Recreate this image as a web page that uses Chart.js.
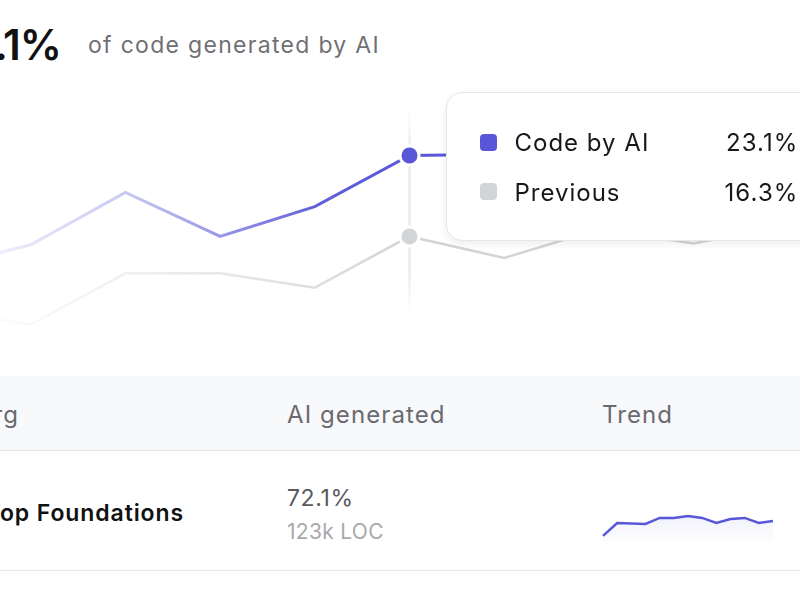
<!DOCTYPE html>
<html>
<head>
<meta charset="utf-8">
<script src="https://cdn.jsdelivr.net/npm/chart.js@4.4.1/dist/chart.umd.min.js"></script>
<style>
  html, body { margin: 0; padding: 0; }
  body { width: 800px; height: 600px; overflow: hidden; position: relative; background: #fff; font-family: Inter, 'Noto Sans', sans-serif; }
  .abs { position: absolute; white-space: nowrap; line-height: 1; }
  .headline { right: 739px; top: 24px; font-size: 42px; font-weight: 600; color: #111; letter-spacing: -1px; }
  .subtitle { left: 88px; top: 34px; font-size: 23px; color: #707074; letter-spacing: 1.3px; }
  #main-wrap { position: absolute; left: -64px; top: 90px; width: 947px; height: 250px; }
  #tip { position: absolute; top: 92px; width: 420px; height: 149px; box-sizing: border-box; background: #fff;
         border: 1px solid #e6e6e8; border-radius: 16px; box-shadow: 0 3px 8px rgba(0,0,0,0.07); }
  #tip .mark { position: absolute; left: 33px; width: 17px; height: 17px; border-radius: 4px; }
  #tip .name { position: absolute; left: 68px; font-size: 24px; color: #18181b; line-height: 1; letter-spacing: 1px; }
  #tip .val { position: absolute; left: 0; width: 352px; text-align: right; font-size: 24px; color: #18181b; line-height: 1; letter-spacing: 1.1px; }
  .thead { position: absolute; left: 0; top: 376px; width: 800px; height: 74px; background: #f8f9fb; border-bottom: 1px solid #e4e6ea; }
  .hcell { top: 403px; font-size: 24px; color: #6a6a70; letter-spacing: 1.1px; }
  .rowline { position: absolute; left: 0; top: 570px; width: 800px; height: 1px; background: #e4e6ea; }
  .org { right: 616px; top: 502px; font-size: 23px; font-weight: 600; color: #111; letter-spacing: 0.9px; }
  .pct { left: 287px; top: 487px; font-size: 23px; color: #5a5a5e; letter-spacing: 0.6px; }
  .loc { left: 287px; top: 521px; font-size: 21px; color: #a9a9ad; letter-spacing: 0.3px; }
  #spark-wrap { position: absolute; left: 598px; top: 500px; width: 180px; height: 45px; }
</style>
</head>
<body>
<div class="abs headline">23.1%</div>
<div class="abs subtitle">of code generated by AI</div>

<div id="main-wrap"><canvas id="chart-main"></canvas></div>
<div id="tip"></div>

<div class="thead"></div>
<div class="abs hcell" style="right:781px">Org</div>
<div class="abs hcell" style="left:287px">AI generated</div>
<div class="abs hcell" style="left:602px">Trend</div>
<div class="abs org">Top Foundations</div>
<div class="abs pct">72.1%</div>
<div class="abs loc">123k LOC</div>
<div id="spark-wrap"><canvas id="chart-spark"></canvas></div>
<div class="rowline"></div>

<script>
const weeks = ['W1', 'W2', 'W3', 'W4', 'W5', 'W6', 'W7', 'W8', 'W9', 'W10', 'W11'];
const aiShare = [13.6, 15.6, 20.0, 16.3, 18.8, 23.1, 23.2, 24.4, 23.8, 25.4, 25.0];
const previousShare = [10.2, 8.9, 13.2, 13.2, 12.0, 16.3, 14.5, 16.9, 15.7, 17.3, 16.6];
const seriesNames = ['Code by AI', 'Previous'];
const activeIndex = 5;

const trendLabels = ['1', '2', '3', '4', '5', '6', '7', '8', '9', '10', '11', '12', '13'];
const trendValues = [63.9, 71.0, 70.7, 70.5, 73.8, 73.8, 74.9, 73.8, 71.0, 73.2, 73.8, 71.0, 72.1];

const purple = '#5957d8';
const grey = '#d3d4d8';

// lines fade out towards the left edge
function fade(r, g, b, stops) {
	return function(ctx) {
		const area = ctx.chart.chartArea;
		if (!area) return;
		const w = ctx.chart.width;
		const grad = ctx.chart.ctx.createLinearGradient(0, 0, w, 0);
		stops.forEach(s => grad.addColorStop(s[0] / w, `rgba(${r},${g},${b},${s[1]})`));
		return grad;
	};
}

const crosshair = {
	id: 'crosshair',
	beforeDatasetsDraw(chart) {
		const x = chart.scales.x.getPixelForValue(activeIndex);
		const ctx = chart.ctx;
		const g = ctx.createLinearGradient(0, 18, 0, 225);
		g.addColorStop(0, 'rgba(236,236,238,0)');
		g.addColorStop(0.2, 'rgba(236,236,238,1)');
		g.addColorStop(0.8, 'rgba(236,236,238,1)');
		g.addColorStop(1, 'rgba(236,236,238,0)');
		ctx.save();
		ctx.strokeStyle = g;
		ctx.lineWidth = 2.5;
		ctx.beginPath();
		ctx.moveTo(x, 18);
		ctx.lineTo(x, 225);
		ctx.stroke();
		ctx.restore();
	}
};

const radii = weeks.map((w, i) => i === activeIndex ? 9.5 : 0);

let chartMain = new Chart(document.getElementById('chart-main').getContext('2d'), {
	type: 'line',
	data: {
		labels: weeks,
		datasets: [{
			label: seriesNames[0],
			data: aiShare,
			borderColor: fade(89, 87, 216, [[0, 0.03], [64, 0.1], [190, 0.32], [285, 0.62], [380, 0.95], [470, 1], [947, 1]]),
			borderWidth: 3,
			pointRadius: radii,
			pointBackgroundColor: purple,
			pointBorderColor: '#fff',
			pointBorderWidth: 3,
			tension: 0,
		}, {
			label: seriesNames[1],
			data: previousShare,
			borderColor: fade(211, 212, 216, [[0, 0.03], [64, 0.08], [190, 0.35], [380, 0.75], [470, 1], [947, 1]]),
			borderWidth: 2.5,
			pointRadius: radii,
			pointBackgroundColor: grey,
			pointBorderColor: '#fff',
			pointBorderWidth: 3,
			tension: 0,
		}]
	},
	options: {
		maintainAspectRatio: false,
		responsive: true,
		animation: false,
		events: [],
		layout: { padding: 0 },
		plugins: { legend: { display: false }, tooltip: { enabled: false } },
		scales: {
			x: { display: false, offset: false },
			y: { display: false, min: 7.6, max: 28.6 }
		}
	},
	plugins: [crosshair]
});

// tooltip box built from the active point
const tip = document.getElementById('tip');
tip.style.left = (-64 + chartMain.scales.x.getPixelForValue(activeIndex) + 36) + 'px';
[[aiShare, purple, 38, 41], [previousShare, grey, 88, 90]].forEach((row, k) => {
	tip.innerHTML +=
		`<div class="mark" style="top:${row[3]}px;background:${row[1]}"></div>` +
		`<div class="name" style="top:${row[2]}px">${seriesNames[k]}</div>` +
		`<div class="val" style="top:${row[2]}px">${row[0][activeIndex].toFixed(1)}%</div>`;
});

let chartSpark = new Chart(document.getElementById('chart-spark').getContext('2d'), {
	type: 'line',
	data: {
		labels: trendLabels,
		datasets: [{
			data: trendValues,
			borderColor: purple,
			borderWidth: 2.5,
			pointRadius: 0,
			tension: 0,
			fill: 'start',
			backgroundColor: function(ctx) {
				const g = ctx.chart.ctx.createLinearGradient(0, 10, 0, 45);
				g.addColorStop(0, 'rgba(89,87,216,0.10)');
				g.addColorStop(1, 'rgba(89,87,216,0)');
				return g;
			}
		}]
	},
	options: {
		maintainAspectRatio: false,
		responsive: true,
		animation: false,
		events: [],
		layout: { padding: { left: 5, right: 5, top: 0, bottom: 0 } },
		plugins: { legend: { display: false }, tooltip: { enabled: false } },
		scales: {
			x: { display: false, offset: false },
			y: { display: false, min: 58.9, max: 83.65 }
		}
	}
});
</script>
</body>
</html>
